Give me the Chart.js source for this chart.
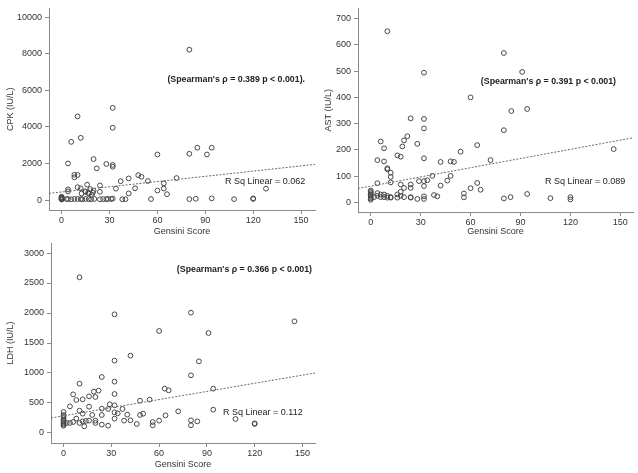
<!DOCTYPE html>
<html>
<head>
<meta charset="utf-8">
<script src="https://cdn.jsdelivr.net/npm/chart.js@4/dist/chart.umd.min.js"></script>
<style>
html,body{margin:0;padding:0;background:#fff;}
#wrap{position:relative;width:638px;height:473px;}
.pane{position:absolute;}
</style>
</head>
<body>
<div id="wrap">
  <div class="pane" style="left:0;top:0;width:320px;height:240px"><canvas id="c1"></canvas></div>
  <div class="pane" style="left:318px;top:0;width:320px;height:240px"><canvas id="c2"></canvas></div>
  <div class="pane" style="left:0;top:230px;width:320px;height:243px"><canvas id="c3"></canvas></div>
</div>
<script>
// ---------- data ----------
const xTicks = [0, 30, 60, 90, 120, 150];
const cpkTicks = [0, 2000, 4000, 6000, 8000, 10000];
const astTicks = [0, 100, 200, 300, 400, 500, 600, 700];
const ldhTicks = [0, 500, 1000, 1500, 2000, 2500, 3000];

const cpkPoints = [
  [0,30],[0,60],[0,90],[0,120],[0,150],[0,180],[0,40],[0,70],
  [3,55],[4,50],[6,40],[8,60],[10,55],[12,50],[13,40],[15,60],[17,50],[18.5,45],[20.5,60],[24,40],[26,50],[28,45],[29,60],[31,55],[32,80],[38,40],[40,45],[56,55],[80,50],[84,70],[94,90],[108,50],[120,60],[120,90],
  [4,580],[4,470],[10,700],[12,640],[16,840],[18,600],[20,510],[15,450],[17,360],[19,270],[12.5,360],[16.6,400],[19.5,400],[14.8,470],[24,800],[24,450],[34,620],[37,1030],[42,1180],[42,360],[46,640],[48,1360],[50,1270],[54,1040],[60,2490],[60,520],[64,910],[64,630],[66,320],[72,1200],[80,2530],[85,2860],[91,2490],[94,2860],[128,620],
  [4,2000],[6,3180],[8,1380],[10,1370],[8,1240],[10,4570],[12,3400],[20,2240],[22,1730],[28,1970],[32,1920],[32,1820],[32,3950],[32,5040],[80,8220]
];
const cpkFit = [[-7.9, 365], [158.7, 1948]];

const astPoints = [
  [10,652],[80,569],[91,497],[32,494],[60,400],[84.5,348],[94,356],[24,320],[32,318],[32,282],[80,275],
  [6,232],[8,206],[22,252],[20,236],[19,213],[28,223],[64,218],[146,203],
  [4,161],[8,156],[16,179],[18,174],[32,168],[54,193],[42,154],[48,156],[50,154],[72,161],
  [10,130],[10,126],[12,113],[12,97],[12,76],[4,73],[18,68],[24,68],[24,55],[20,55],[29,81],[32,81],[34,84],[37,101],[48,101],[46,83],[42,64],[32,62],[60,54],[64,74],[66,48],[56,34],[56,19],[38,28],[40,23],[32,23],[32,13],[28,13],[80,15],[84,20],[94,32],[108,16],[120,20],[120,11],
  [0,10],[0,15],[0,20],[0,25],[0,30],[0,35],[0,40],[0,45],[2,20],[4,35],[4,25],[6,30],[6,20],[8,30],[8,20],[10,25],[10,18],[12,20],[12,18],[16,30],[16,18],[18,40],[18,25],[20,20],[24,18],[24,20]
];
const astFit = [[-7.65, 53], [157.6, 246]];

const ldhPoints = [
  [10,2595],[32,1978],[80,2006],[60,1700],[91,1667],[145,1861],[42,1289],[32,1206],[85,1194],[80,961],
  [10,822],[24,933],[32,856],[32,650],[63.5,739],[66,711],[94,739],[6,644],[16,611],[19,689],[22,706],[20,600],[12,561],[8,550],
  [4,444],[16,439],[24,406],[29,478],[32,461],[28,400],[37,400],[48,539],[54,556],[40,306],[34,328],[32,344],[32,239],[24,300],[12,322],[10,372],[48,300],[50,322],[72,361],[94,389],[64,294],
  [60,206],[56,183],[56,128],[46,150],[42,211],[38,206],[28,122],[24,139],[80,211],[80,128],[84,194],[108,233],[120,161],[120,150],
  [20,206],[20,167],[16,206],[13,111],[12,194],[10,167],[6,183],[4,167],[2,167],[8,239],[14,200],[18,300],
  [0,120],[0,140],[0,160],[0,180],[0,200],[0,220],[0,250],[0,280],[0,300],[0,350]
];
const ldhFit = [[-7.9, 250], [157.9, 1000]];

// ---------- helpers ----------
const FONT = "'Liberation Sans', Arial, sans-serif";
const FS = 9;
const toXY = arr => arr.map(p => ({x: p[0], y: p[1]}));

const textPlugin = {
  id: 'notes',
  afterDatasetsDraw(chart, args, opts) {
    const ctx = chart.ctx;
    ctx.save();
    (opts.items || []).forEach(it => {
      ctx.font = (it.bold ? 'bold ' : '') + (it.size || FS) + 'px ' + FONT;
      ctx.fillStyle = '#222';
      ctx.textAlign = it.align;
      ctx.textBaseline = 'middle';
      ctx.fillText(it.text, it.x, it.y);
    });
    ctx.restore();
  }
};

function makeChart(id, pts, fit, yTicks, yMin, yMax, xMin, xMax, yTitle, box, notes) {
  const axisColor = '#8a8a8a';
  return new Chart(document.getElementById(id), {
    type: 'scatter',
    data: {
      datasets: [
        {
          data: toXY(pts),
          pointStyle: 'circle',
          pointRadius: 2.4,
          borderWidth: 1,
          borderColor: '#474747',
          backgroundColor: 'rgba(0,0,0,0)',
          showLine: false,
          order: 2
        },
        {
          type: 'line',
          data: toXY(fit),
          borderColor: '#6a6a6a',
          borderWidth: 1,
          borderDash: [2, 1.5],
          pointRadius: 0,
          fill: false,
          order: 1
        }
      ]
    },
    options: {
      responsive: false,
      animation: false,
      devicePixelRatio: 1,
      layout: { padding: { top: box.top, right: box.right, left: 0, bottom: 0 } },
      plugins: { legend: { display: false }, tooltip: { enabled: false }, notes: { items: notes } },
      scales: {
        x: {
          type: 'linear', min: xMin, max: xMax,
          afterBuildTicks: s => { s.ticks = xTicks.map(v => ({value: v})); },
          afterFit: s => { s.height = box.bottom; },
          grid: { drawOnChartArea: false, drawTicks: true, tickLength: 4, color: axisColor },
          border: { display: true, color: axisColor, width: 1 },
          ticks: { font: { family: FONT, size: FS }, color: '#333', padding: 1, maxRotation: 0, callback: v => String(v) },
          title: { display: true, text: 'Gensini Score', font: { family: FONT, size: FS }, color: '#333', padding: { top: 0, bottom: 3 } }
        },
        y: {
          type: 'linear', min: yMin, max: yMax,
          afterBuildTicks: s => { s.ticks = yTicks.map(v => ({value: v})); },
          afterFit: s => { s.width = box.left; },
          grid: { drawOnChartArea: false, drawTicks: true, tickLength: 4, color: axisColor },
          border: { display: true, color: axisColor, width: 1 },
          ticks: { font: { family: FONT, size: FS }, color: '#333', padding: 3, callback: v => String(v) },
          title: { display: true, text: yTitle, font: { family: FONT, size: FS }, color: '#333', padding: { top: 5, bottom: 0 } }
        }
      }
    },
    plugins: [textPlugin]
  });
}

const cv = [['c1',320,240],['c2',320,240],['c3',320,243]];
cv.forEach(([id,w,h]) => { const c = document.getElementById(id); c.width = w; c.height = h; c.style.width = w+'px'; c.style.height = h+'px'; });

makeChart('c1', cpkPoints, cpkFit, cpkTicks, -545, 10475, -7.9, 158.7, 'CPK (IU/L)',
  { left: 49, top: 8, right: 4, bottom: 30 },
  [ { text: "(Spearman's \u03C1 = 0.389 p < 0.001).", x: 305, y: 80, align: 'right', bold: true, size: 8.8 },
    { text: 'R Sq Linear = 0.062', x: 225, y: 182, align: 'left' } ]);

makeChart('c2', astPoints, astFit, astTicks, -36.7, 739, -7.65, 157.6, 'AST (IU/L)',
  { left: 40, top: 7, right: 5, bottom: 28 },
  [ { text: "(Spearman's \u03C1 = 0.391 p < 0.001)", x: 298, y: 82, align: 'right', bold: true, size: 8.8 },
    { text: 'R Sq Linear = 0.089', x: 227, y: 182, align: 'left' } ]);

makeChart('c3', ldhPoints, ldhFit, ldhTicks, -167, 3167, -7.9, 157.9, 'LDH (IU/L)',
  { left: 51, top: 13, right: 4, bottom: 30 },
  [ { text: "(Spearman's \u03C1 = 0.366 p < 0.001)", x: 312, y: 40, align: 'right', bold: true, size: 8.8 },
    { text: 'R Sq Linear = 0.112', x: 223, y: 183, align: 'left' } ]);
</script>
</body>
</html>
